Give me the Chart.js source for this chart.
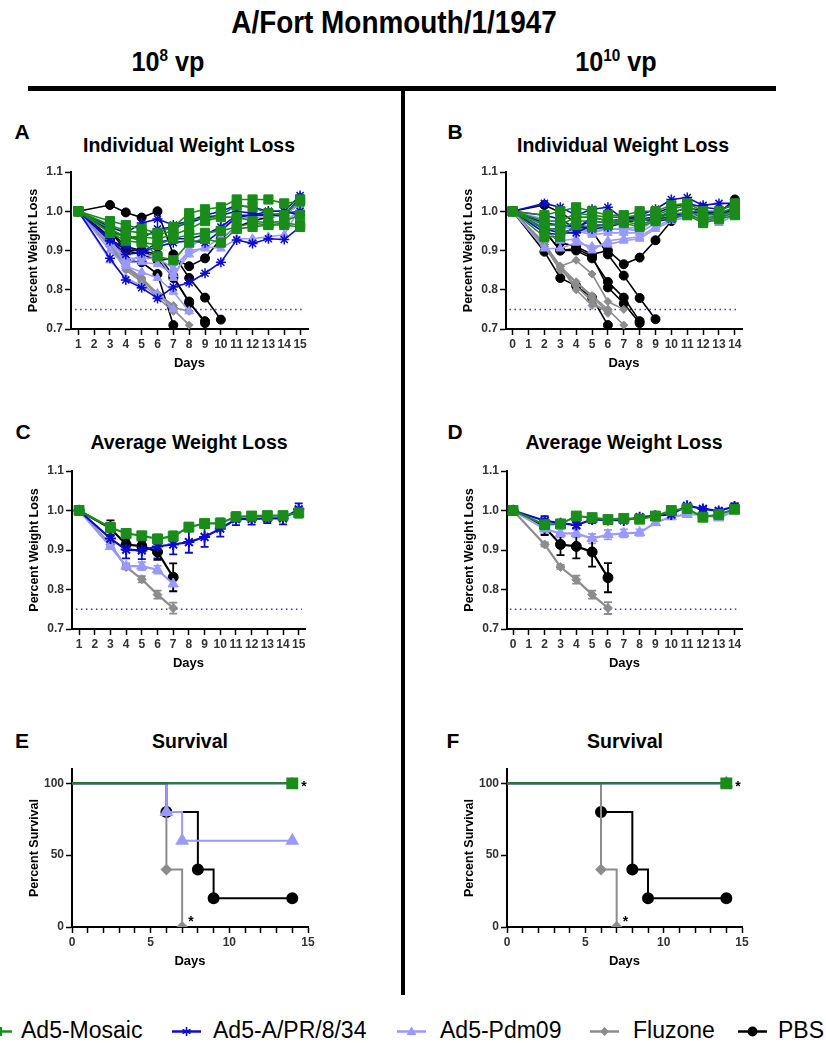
<!DOCTYPE html>
<html>
<head>
<meta charset="utf-8">
<script src="https://cdn.jsdelivr.net/npm/chart.js@4.4.1/dist/chart.umd.min.js"></script>
<style>
body { margin: 0; width: 826px; height: 1043px; position: relative; overflow: hidden; background: #fff;
       font-family: "Liberation Sans", Arial, sans-serif; }
.t { position: absolute; transform: translate(-50%, -50%); white-space: nowrap; font-weight: bold; color: #000; }
.lab { font-size: 21px; }
.ptitle { font-size: 19.5px; }
.narrow { transform: translate(-50%, -50%) scaleX(0.9); }
canvas { position: absolute; }
.leg { position: absolute; top: 1017px; font-size: 23px; color: #000; white-space: nowrap; }
.legicon { position: absolute; top: 1022px; }
</style>
</head>
<body>
<div class="t narrow" style="left:394px;top:23px;font-size:31px">A/Fort Monmouth/1/1947</div>
<div class="t narrow" style="left:168px;top:62px;font-size:28px">10<span style="font-size:17px;position:relative;top:-10px">8</span> vp</div>
<div class="t narrow" style="left:616px;top:62px;font-size:28px">10<span style="font-size:17px;position:relative;top:-10px">10</span> vp</div>
<div style="position:absolute;left:28px;top:86px;width:748px;height:5px;background:#000"></div>
<div style="position:absolute;left:401px;top:88px;width:4px;height:907px;background:#000"></div>

<div class="t lab" style="left:22px;top:132px">A</div>
<div class="t lab" style="left:455px;top:132px">B</div>
<div class="t lab" style="left:23px;top:432px">C</div>
<div class="t lab" style="left:455px;top:432px">D</div>
<div class="t lab" style="left:22px;top:741px">E</div>
<div class="t lab" style="left:453px;top:741px">F</div>

<div class="t ptitle" style="left:189px;top:145px">Individual Weight Loss</div>
<div class="t ptitle" style="left:623px;top:145px">Individual Weight Loss</div>
<div class="t ptitle" style="left:189px;top:442px">Average Weight Loss</div>
<div class="t ptitle" style="left:624px;top:442px">Average Weight Loss</div>
<div class="t ptitle" style="left:190px;top:741px">Survival</div>
<div class="t ptitle" style="left:625px;top:741px">Survival</div>

<div id="legend"></div>

<script>
const green = '#1a8c1a', blue = '#0c0ccc', lilac = '#9999ff', grey = '#8c8c8c', black = '#000000';

// ---- panel A: individual mice, 10^8 vp ----
const daysA = [1, 3, 4, 5, 6, 7, 8, 9, 10, 11, 12, 13, 14, 15];
const mosaicA = [
  [1.0, 0.975, 0.965, 0.955, 0.945, 0.96, 0.995, 1.005, 1.01, 1.03, 1.03, 1.03, 1.02, 1.025],
  [1.0, 0.965, 0.95, 0.945, 0.94, 0.95, 0.98, 0.98, 0.99, 1.015, 1.01, 0.995, 0.99, 1.03],
  [1.0, 0.955, 0.935, 0.935, 0.93, 0.94, 0.955, 0.975, 0.985, 0.985, 0.975, 0.97, 0.975, 0.99],
  [1.0, 0.945, 0.925, 0.92, 0.915, 0.93, 0.94, 0.945, 0.95, 0.96, 0.97, 0.965, 0.965, 0.96],
  [1.0, 0.945, 0.935, 0.925, 0.885, 0.875, 0.92, 0.93, 0.92, 0.955, 0.96, 0.965, 0.97, 0.965]
];
const pr8A = [
  [1.0, 0.88, 0.825, 0.805, 0.778, 0.807, 0.818, 0.842, 0.87, 0.927, 0.918, 0.93, 0.928, 0.96],
  [1.0, 0.96, 0.945, 0.97, 0.98, 0.965, 0.975, 0.99, 1.0, 1.015, 1.01, 1.0, 1.0, 1.04],
  [1.0, 0.95, 0.935, 0.93, 0.955, 0.96, 0.97, 0.985, 0.99, 1.0, 0.995, 0.99, 0.99, 1.035],
  [1.0, 0.93, 0.89, 0.895, 0.92, 0.93, 0.93, 0.94, 0.96, 0.99, 0.99, 0.99, 0.995, 1.0],
  [1.0, 0.925, 0.91, 0.895, 0.91, 0.92, 0.925, 0.92, 0.95, 0.985, 0.99, 1.0, 1.0, 0.99]
];
const pdmA = [
  [1.0, 0.875, 0.83, 0.81, 0.79, 0.75],
  [1.0, 0.9, 0.86, 0.845, 0.83, 0.795, 0.745],
  [1.0, 0.92, 0.87, 0.87, 0.865, 0.84, 0.89, 0.91, 0.905, 0.93, 0.93, 0.935, 0.94, 1.01],
  [1.0, 0.925, 0.88, 0.88, 0.88, 0.855, 0.9, 0.905, 0.935, 0.955, 0.96, 0.97, 0.975, 1.0],
  [1.0, 0.925, 0.865, 0.89, 0.885, 0.83, 0.905, 0.94, 0.96, 0.98, 0.985, 0.985, 0.99, 1.02]
];
const fluA = [
  [1.0, 0.91, 0.85, 0.82, 0.78, 0.745],
  [1.0, 0.915, 0.86, 0.825, 0.79, 0.76],
  [1.0, 0.92, 0.86, 0.83, 0.785, 0.755],
  [1.0, 0.91, 0.86, 0.83, 0.79, 0.755, 0.745],
  [1.0, 0.915, 0.855, 0.825, 0.79, 0.75, 0.71]
];
const pbsA = [
  [1.0, 1.016, 0.997, 0.984, 1.0, 0.89, 0.83, 0.78, 0.724],
  [1.0, 0.95, 0.91, 0.9, 0.89, 0.835, 0.766, 0.72],
  [1.0, 0.93, 0.9, 0.9, 0.88, 0.83, 0.77, 0.715],
  [1.0, 0.935, 0.875, 0.87, 0.84, 0.71],
  [1.0, 0.95, 0.9, 0.89, 0.875, 0.88, 0.86, 0.88, 0.93, 0.96, 0.975, 0.985, 0.99, 1.02]
];

// ---- panel B: individual mice, 10^10 vp ----
const daysB = [0, 2, 3, 4, 5, 6, 7, 8, 9, 10, 11, 12, 13, 14];
const mosaicB = [
  [1.0, 0.99, 1.0, 1.01, 1.0, 0.99, 0.99, 1.0, 1.0, 1.015, 1.02, 1.0, 1.0, 1.02],
  [1.0, 0.975, 0.975, 0.995, 0.99, 0.985, 0.985, 0.99, 0.99, 1.005, 1.015, 0.99, 0.995, 1.01],
  [1.0, 0.965, 0.965, 0.985, 0.985, 0.975, 0.98, 0.975, 0.985, 1.0, 1.005, 0.98, 0.99, 1.0],
  [1.0, 0.955, 0.955, 0.975, 0.975, 0.97, 0.975, 0.965, 0.98, 0.995, 0.995, 0.975, 0.985, 0.995],
  [1.0, 0.935, 0.935, 0.965, 0.96, 0.965, 0.97, 0.96, 0.975, 0.985, 0.99, 0.97, 0.98, 0.99]
];
const pr8B = [
  [1.0, 1.02, 1.01, 0.99, 1.005, 1.01, 0.98, 0.99, 1.005, 1.03, 1.035, 1.015, 1.02, 1.02],
  [1.0, 0.99, 0.98, 0.955, 0.985, 0.975, 0.98, 0.985, 0.995, 1.01, 1.02, 1.01, 1.005, 1.015],
  [1.0, 0.97, 0.965, 0.96, 0.975, 0.97, 0.975, 0.98, 0.985, 0.995, 1.01, 1.0, 0.995, 1.005],
  [1.0, 0.955, 0.945, 0.945, 0.965, 0.965, 0.97, 0.98, 0.98, 0.985, 1.0, 0.995, 0.99, 1.005],
  [1.0, 0.945, 0.94, 0.96, 0.955, 0.96, 0.97, 0.98, 0.975, 0.98, 0.995, 1.0, 0.99, 1.005]
];
const pdmB = [
  [1.0, 0.905, 0.905, 0.92, 0.91, 0.915, 0.925, 0.93, 0.955, 0.975, 0.985, 0.985, 0.97, 0.99],
  [1.0, 0.95, 0.925, 0.93, 0.9, 0.925, 0.93, 0.935, 0.96, 0.98, 0.99, 0.99, 0.98, 1.0],
  [1.0, 0.96, 0.95, 0.95, 0.94, 0.945, 0.945, 0.945, 0.97, 0.985, 0.99, 0.995, 0.985, 1.005],
  [1.0, 0.97, 0.96, 0.955, 0.945, 0.955, 0.955, 0.95, 0.98, 0.99, 0.995, 0.99, 0.98, 1.0],
  [1.0, 0.98, 0.97, 0.955, 0.95, 0.955, 0.955, 0.96, 0.98, 0.99, 0.99, 0.99, 0.99, 1.005]
];
const fluB = [
  [1.0, 0.91, 0.85, 0.82, 0.78, 0.745],
  [1.0, 0.915, 0.86, 0.82, 0.785, 0.75],
  [1.0, 0.92, 0.855, 0.81, 0.77, 0.74],
  [1.0, 0.915, 0.86, 0.875, 0.84, 0.77, 0.75],
  [1.0, 0.915, 0.86, 0.8, 0.76, 0.75, 0.71]
];
const pbsB = [
  [1.0, 1.016, 0.997, 0.97, 0.95, 0.89, 0.836, 0.779, 0.725],
  [1.0, 0.955, 0.92, 0.91, 0.89, 0.9, 0.865, 0.882, 0.926, 0.975, 1.0, 0.99, 0.995, 1.03],
  [1.0, 0.95, 0.9, 0.9, 0.88, 0.82, 0.78, 0.72],
  [1.0, 0.95, 0.9, 0.905, 0.885, 0.806, 0.765, 0.715],
  [1.0, 0.897, 0.83, 0.81, 0.78, 0.71]
];

// ---- panel C: group means +/- SEM, 10^8 vp ----
const mosaicC = [1.0, 0.957, 0.942, 0.936, 0.928, 0.935, 0.958, 0.967, 0.968, 0.984, 0.986, 0.987, 0.987, 0.994];
const mosaicCErr = [0, 0.01, 0.007, 0.007, 0.01, 0.012, 0.01, 0.01, 0.012, 0.012, 0.01, 0.01, 0.01, 0.012];
const pr8C = [1.0, 0.929, 0.901, 0.899, 0.909, 0.914, 0.92, 0.933, 0.954, 0.978, 0.979, 0.98, 0.98, 1.003];
const pr8CErr = [0, 0.01, 0.022, 0.022, 0.03, 0.025, 0.027, 0.025, 0.02, 0.015, 0.015, 0.012, 0.015, 0.015];
const pdmC = [1.0, 0.909, 0.859, 0.859, 0.85, 0.814];
const pdmCErr = [0, 0.005, 0.008, 0.01, 0.01, 0.02];
const fluC = [1.0, 0.914, 0.857, 0.826, 0.787, 0.753];
const fluCErr = [0, 0.005, 0.005, 0.008, 0.01, 0.014];
const pbsC = [1.0, 0.955, 0.914, 0.91, 0.895, 0.831];
const pbsCErr = [0, 0.02, 0.014, 0.014, 0.02, 0.035];

// ---- panel D: group means +/- SEM, 10^10 vp ----
const mosaicD = [1.0, 0.964, 0.966, 0.986, 0.982, 0.977, 0.98, 0.978, 0.986, 1.0, 1.005, 0.983, 0.99, 1.003];
const mosaicDErr = [0, 0.01, 0.008, 0.005, 0.005, 0.006, 0.005, 0.005, 0.005, 0.005, 0.008, 0.006, 0.006, 0.006];
const pr8D = [1.0, 0.974, 0.968, 0.963, 0.977, 0.976, 0.975, 0.983, 0.987, 0.99, 1.012, 1.004, 0.999, 1.01];
const pr8DErr = [0, 0.012, 0.008, 0.008, 0.008, 0.006, 0.006, 0.006, 0.006, 0.006, 0.005, 0.005, 0.006, 0.008];
const pdmD = [1.0, 0.953, 0.942, 0.942, 0.929, 0.939, 0.942, 0.944, 0.969, 0.984, 0.99, 0.99, 0.981, 1.0];
const pdmDErr = [0, 0.012, 0.01, 0.01, 0.012, 0.012, 0.01, 0.008, 0.006, 0.005, 0.005, 0.005, 0.005, 0.005];
const fluD = [1.0, 0.914, 0.857, 0.825, 0.787, 0.753];
const fluDErr = [0, 0.005, 0.005, 0.01, 0.01, 0.015];
const pbsD = [1.0, 0.958, 0.914, 0.909, 0.895, 0.83];
const pbsDErr = [0, 0.02, 0.027, 0.03, 0.037, 0.037];

// ---- panels E/F: Kaplan-Meier survival (event days, percent) ----
const survDaysAll = [0, 14];
const survAll = [100, 100];
const pdmEDays = [0, 6, 7, 14];
const pdmE = [100, 80, 60, 60];
const fluSurvDays = [0, 6, 7];
const fluSurv = [100, 40, 0];
const pbsSurvDays = [0, 6, 8, 9, 14];
const pbsSurv = [100, 80, 40, 20, 20];

const weightTicks = [0.7, 0.8, 0.9, 1.0, 1.1];
const survTicks = [0, 50, 100];
const survDayTicks = [0, 1, 2, 3, 4, 5, 6, 7, 8, 9, 10, 11, 12, 13, 14, 15];
const threshold = 0.75;
const starNotes = [{ x: 14, y: 100 }, { x: 7, y: 0 }];

// ---------------- drawing ----------------
const YW = 45, XH = 42, PT = 10, PR = 10;
const tickFont = { family: 'Liberation Sans', size: 12, weight: 'bold' };

const groups = [
  { color: green, style: 'rect', r: 6.5, rm: 7 },
  { color: blue, style: 'star', r: 5, rm: 5.5 },
  { color: lilac, style: 'triangle', r: 5, rm: 6 },
  { color: grey, style: 'rectRot', r: 4, rm: 4.5 },
  { color: black, style: 'circle', r: 4.5, rm: 5 }
];

function pts(days, vals) { return vals.map((v, i) => ({ x: days[i], y: v })); }

function miceSets(days, sets) {
  const out = [];
  sets.forEach((group, g) => {
    const st = groups[g];
    group.forEach(vals => out.push({
      data: pts(days, vals), borderColor: st.color, backgroundColor: st.color,
      pointStyle: st.style, pointRadius: st.r, pointBorderWidth: st.style === 'star' ? 1.5 : 1,
      borderWidth: 1.6
    }));
  });
  return out;
}

function meanSets(days, means, errs) {
  return means.map((m, g) => {
    const st = groups[g];
    return {
      data: pts(days, m), errors: errs[g], borderColor: st.color, backgroundColor: st.color,
      pointStyle: st.style, pointRadius: st.rm, pointBorderWidth: st.style === 'star' ? 2 : 1, borderWidth: 2.2
    };
  });
}

function thresholdSet(xmin, xmax) {
  return {
    data: [{ x: xmin, y: threshold }, { x: xmax, y: threshold }], borderColor: '#3a3ab8',
    borderWidth: 1.5, borderDash: [1.5, 3.5], pointRadius: 0, order: 10
  };
}

const errorBars = {
  id: 'errorBars',
  beforeDatasetsDraw(chart) {
    const ctx = chart.ctx, ys = chart.scales.y;
    chart.data.datasets.forEach((ds, i) => {
      if (!ds.errors) return;
      const meta = chart.getDatasetMeta(i);
      ctx.save();
      ctx.strokeStyle = ds.borderColor;
      ctx.lineWidth = 1.8;
      meta.data.forEach((p, j) => {
        const e = ds.errors[j];
        if (!e) return;
        const y0 = ys.getPixelForValue(ds.data[j].y - e), y1 = ys.getPixelForValue(ds.data[j].y + e);
        ctx.beginPath();
        ctx.moveTo(p.x, y0); ctx.lineTo(p.x, y1);
        ctx.moveTo(p.x - 4, y0); ctx.lineTo(p.x + 4, y0);
        ctx.moveTo(p.x - 4, y1); ctx.lineTo(p.x + 4, y1);
        ctx.stroke();
      });
      ctx.restore();
    });
  }
};

const stars = {
  id: 'stars',
  afterDraw(chart) {
    const notes = chart.options.plugins.stars && chart.options.plugins.stars.points;
    if (!notes) return;
    const ctx = chart.ctx;
    ctx.save();
    ctx.fillStyle = '#000';
    ctx.font = 'bold 14px "Liberation Sans"';
    ctx.textAlign = 'left';
    ctx.textBaseline = 'middle';
    notes.forEach(n => {
      const x = chart.scales.x.getPixelForValue(n.x), y = chart.scales.y.getPixelForValue(n.y);
      ctx.fillText('*', x + (n.y > 50 ? 9 : 6), y + (n.y > 50 ? 4 : -5));
    });
    ctx.restore();
  }
};

function makeCanvas(box) {
  const c = document.createElement('canvas');
  const w = box.r - box.l + YW + PR, h = box.b - box.t + PT + XH;
  c.width = w; c.height = h;
  c.style.left = (box.l - YW) + 'px';
  c.style.top = (box.t - PT) + 'px';
  c.style.width = w + 'px'; c.style.height = h + 'px';
  document.body.appendChild(c);
  return c;
}

function axisX(min, max, tickVals, labelFn) {
  return {
    type: 'linear', min: min, max: max,
    afterBuildTicks: s => { s.ticks = tickVals.map(v => ({ value: v })); },
    afterFit: s => { s.height = XH; },
    ticks: { font: tickFont, color: '#333', padding: 2, autoSkip: false, maxRotation: 0, callback: labelFn },
    grid: { drawOnChartArea: false, tickLength: 6, tickWidth: 1.5, tickColor: '#000' },
    border: { color: '#000', width: 2 },
    title: { display: true, text: 'Days', color: '#000', font: { family: 'Liberation Sans', size: 13, weight: 'bold' }, padding: 0 }
  };
}

function axisY(min, max, tickVals, labelFn, title) {
  return {
    min: min, max: max,
    afterBuildTicks: s => { s.ticks = tickVals.map(v => ({ value: v })); },
    afterFit: s => { s.width = YW; },
    ticks: { font: tickFont, color: '#333', padding: 2, callback: labelFn },
    grid: { drawOnChartArea: false, tickLength: 6, tickWidth: 1.5, tickColor: '#000' },
    border: { color: '#000', width: 2 },
    title: { display: true, text: title, color: '#000', font: { family: 'Liberation Sans', size: 12.5, weight: 'bold' }, padding: 0 }
  };
}

function chart(box, datasets, scales, extra) {
  new Chart(makeCanvas(box), {
    type: 'line',
    data: { datasets: datasets },
    options: {
      responsive: false, animation: false, devicePixelRatio: 1,
      layout: { padding: { top: PT, right: PR, left: 0, bottom: 0 } },
      plugins: Object.assign({ legend: { display: false }, tooltip: { enabled: false } }, extra || {}),
      scales: scales
    },
    plugins: [errorBars, stars]
  });
}

const wLabel = v => v.toFixed(1);
const dLabel = v => String(v);

chart({ l: 71, t: 172, r: 308, b: 329 },
  miceSets(daysA, [mosaicA, pr8A, pdmA, fluA, pbsA]).concat([thresholdSet(0.8, 15.2)]),
  { x: axisX(0.54, 15.5, daysA.concat([2]).sort((a, b) => a - b), dLabel),
    y: axisY(0.7, 1.1, weightTicks, wLabel, 'Percent Weight Loss') });

chart({ l: 506, t: 172, r: 742, b: 329 },
  miceSets(daysB, [mosaicB, pr8B, pdmB, fluB, pbsB]).concat([thresholdSet(-0.2, 14.2)]),
  { x: axisX(-0.42, 14.45, daysB.concat([1]).sort((a, b) => a - b), dLabel),
    y: axisY(0.7, 1.1, weightTicks, wLabel, 'Percent Weight Loss') });

chart({ l: 72, t: 471, r: 305, b: 629 },
  meanSets(daysA, [mosaicC, pr8C, pdmC, fluC, pbsC], [mosaicCErr, pr8CErr, pdmCErr, fluCErr, pbsCErr])
    .concat([thresholdSet(0.8, 15.2)]),
  { x: axisX(0.55, 15.4, daysA.concat([2]).sort((a, b) => a - b), dLabel),
    y: axisY(0.7, 1.1, weightTicks, wLabel, 'Percent Weight Loss') });

chart({ l: 507, t: 471, r: 742, b: 629 },
  meanSets(daysB, [mosaicD, pr8D, pdmD, fluD, pbsD], [mosaicDErr, pr8DErr, pdmDErr, fluDErr, pbsDErr])
    .concat([thresholdSet(-0.2, 14.2)]),
  { x: axisX(-0.38, 14.47, daysB.concat([1]).sort((a, b) => a - b), dLabel),
    y: axisY(0.7, 1.1, weightTicks, wLabel, 'Percent Weight Loss') });

function survSets(series) {
  return series.map(([days, vals], g) => {
    const st = groups[g];
    return {
      data: pts(days, vals), stepped: true, borderColor: st.color, backgroundColor: st.color,
      pointStyle: st.style, pointRadius: vals.map((v, i) => i === 0 ? 0 : st.rm), borderWidth: 2
    };
  });
}

const survLabel = v => (v % 5 === 0 ? String(v) : '');

chart({ l: 72, t: 769, r: 308, b: 927 },
  survSets([[survDaysAll, survAll], [survDaysAll, survAll], [pdmEDays, pdmE], [fluSurvDays, fluSurv], [pbsSurvDays, pbsSurv]]),
  { x: axisX(0, 15, survDayTicks, survLabel),
    y: axisY(0, 110, survTicks, dLabel, 'Percent Survival') },
  { stars: { points: starNotes } });

chart({ l: 507, t: 769, r: 742, b: 927 },
  survSets([[survDaysAll, survAll], [survDaysAll, survAll], [survDaysAll, survAll], [fluSurvDays, fluSurv], [pbsSurvDays, pbsSurv]]),
  { x: axisX(0, 15, survDayTicks, survLabel),
    y: axisY(0, 110, survTicks, dLabel, 'Percent Survival') },
  { stars: { points: starNotes } });

// ---------------- legend ----------------
const legendNames = ['Ad5-Mosaic', 'Ad5-A/PR/8/34', 'Ad5-Pdm09', 'Fluzone', 'PBS'];
const legendIconX = [-17, 172, 397, 590, 738];
const legendTextX = [21, 213, 440, 633, 778];

function iconSvg(g) {
  const c = groups[g].color;
  let m;
  if (g === 0) m = `<rect x="10" y="5" width="9" height="9" fill="${c}"/>`;
  else if (g === 1) m = `<path d="M14.5 5v9M10.5 7.5l8 4M10.5 11.5l8-4" stroke="${c}" stroke-width="1.6"/>`;
  else if (g === 2) m = `<path d="M14.5 4.5L19.5 13H9.5Z" fill="${c}"/>`;
  else if (g === 3) m = `<path d="M14.5 5L19 9.5L14.5 14L10 9.5Z" fill="${c}"/>`;
  else m = `<circle cx="14.5" cy="9.5" r="5" fill="${c}"/>`;
  return `<svg width="29" height="19" viewBox="0 0 29 19"><line x1="0" y1="9.5" x2="29" y2="9.5" stroke="${c}" stroke-width="2.5"/>${m}</svg>`;
}

const legend = document.getElementById('legend');
legendNames.forEach((name, g) => {
  legend.insertAdjacentHTML('beforeend',
    `<div class="legicon" style="left:${legendIconX[g]}px">${iconSvg(g)}</div>` +
    `<div class="leg" style="left:${legendTextX[g]}px">${name}</div>`);
});
</script>
</body>
</html>
